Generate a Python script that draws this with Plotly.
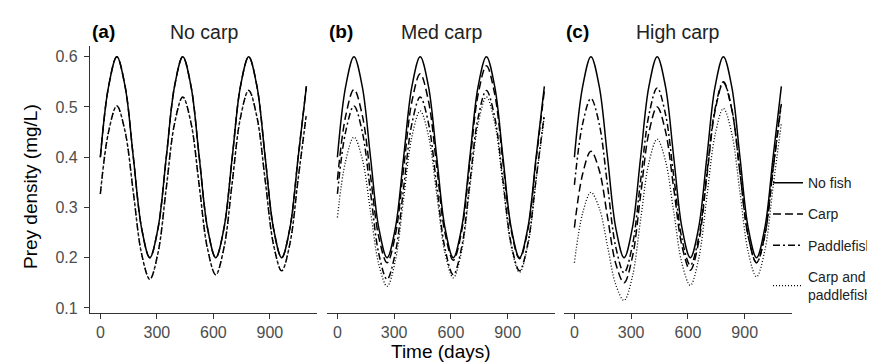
import plotly.graph_objects as go

# Sampled days (8 samples per ~350-day cycle)
days = [0, 43.75, 87.5, 131.25, 175, 218.75, 262.5, 306.25, 350, 393.75, 437.5, 481.25,
        525, 568.75, 612.5, 656.25, 700, 743.75, 787.5, 831.25, 875, 918.75, 962.5,
        1006.25, 1050, 1093.75]

# No fish (same in all panels)
no_fish = [0.400, 0.541, 0.600, 0.541, 0.400, 0.259, 0.200, 0.259, 0.400, 0.541, 0.600, 0.541,
           0.400, 0.259, 0.200, 0.259, 0.400, 0.541, 0.600, 0.541, 0.400, 0.259, 0.200,
           0.259, 0.400, 0.541]

# (a) No carp
a_carp = list(no_fish)
a_paddle = [0.327, 0.451, 0.502, 0.451, 0.330, 0.208, 0.157, 0.210, 0.339, 0.467, 0.520, 0.468,
            0.343, 0.218, 0.166, 0.220, 0.350, 0.479, 0.533, 0.480, 0.354, 0.227, 0.174,
            0.228, 0.357, 0.486]
a_both = list(a_paddle)

# (b) Med carp
b_carp = [0.355, 0.482, 0.535, 0.484, 0.363, 0.241, 0.190, 0.245, 0.378, 0.511, 0.566, 0.512,
          0.381, 0.249, 0.195, 0.252, 0.389, 0.525, 0.582, 0.526, 0.390, 0.254, 0.198,
          0.255, 0.394, 0.533]
b_paddle = list(a_paddle)
b_both = [0.280, 0.393, 0.440, 0.397, 0.292, 0.187, 0.143, 0.194, 0.318, 0.441, 0.492, 0.443,
          0.326, 0.209, 0.160, 0.213, 0.340, 0.467, 0.520, 0.469, 0.346, 0.222, 0.171,
          0.224, 0.353, 0.482]

# (c) High carp
c_carp = [0.260, 0.367, 0.412, 0.374, 0.281, 0.188, 0.150, 0.201, 0.325, 0.449, 0.500, 0.452,
          0.338, 0.223, 0.175, 0.230, 0.362, 0.493, 0.548, 0.496, 0.369, 0.242, 0.190,
          0.245, 0.378, 0.510]
c_paddle = [0.345, 0.467, 0.517, 0.466, 0.344, 0.221, 0.170, 0.224, 0.354, 0.484, 0.538, 0.486,
            0.362, 0.237, 0.185, 0.239, 0.368, 0.497, 0.550, 0.497, 0.370, 0.243, 0.190,
            0.244, 0.375, 0.506]
c_both = [0.190, 0.289, 0.330, 0.299, 0.223, 0.146, 0.115, 0.162, 0.276, 0.389, 0.436, 0.393,
          0.291, 0.188, 0.145, 0.197, 0.321, 0.445, 0.497, 0.448, 0.330, 0.211, 0.162,
          0.214, 0.341, 0.468]

panel_tags = ["(a)", "(b)", "(c)"]
panel_titles = ["No carp", "Med carp", "High carp"]
series_names = ["No fish", "Carp", "Paddlefish", "Carp and<br>paddlefish"]
x_ticks = [0, 300, 600, 900]
y_ticks = [0.1, 0.2, 0.3, 0.4, 0.5, 0.6]

panels = [
    [no_fish, a_carp, a_paddle, a_both],
    [no_fish, b_carp, b_paddle, b_both],
    [no_fish, c_carp, c_paddle, c_both],
]
dashes = ["solid", "8px,4px", "7px,3px,2px,3px", "1px,2px"]
widths = [1.5, 1.5, 1.5, 1.3]

W, H = 875, 364
px_dom = [(82, 309), (319, 547), (556, 784)]
y_top, y_bot = 38, 308
FONT = "Liberation Sans, Arial, sans-serif"

fig = go.Figure()
for p, ser in enumerate(panels):
    xa = "x" if p == 0 else f"x{p+1}"
    ya = "y" if p == 0 else f"y{p+1}"
    for s in [3, 2, 1, 0]:
        fig.add_trace(go.Scatter(
            x=days, y=ser[s], mode="lines", xaxis=xa, yaxis=ya,
            line=dict(color="black", width=widths[s], dash=dashes[s], shape="spline", smoothing=1.0),
            name=series_names[s], legendgroup=series_names[s], legendrank=s,
            showlegend=(p == 2), hoverinfo="skip"))

axis_col = "#333333"
tick_font = dict(family=FONT, size=16, color="#4d4d4d")
for p in range(3):
    d0, d1 = px_dom[p]
    xkey = "xaxis" if p == 0 else f"xaxis{p+1}"
    ykey = "yaxis" if p == 0 else f"yaxis{p+1}"
    fig.layout[xkey] = dict(
        domain=[d0 / W, d1 / W], range=[-55, 1150], tickvals=x_ticks,
        showline=True, linecolor=axis_col, linewidth=1.3, ticks="outside", ticklen=5,
        tickcolor=axis_col, tickwidth=1.1, showgrid=False, zeroline=False,
        tickfont=tick_font, anchor="y" if p == 0 else f"y{p+1}", fixedrange=True)
    fig.layout[ykey] = dict(
        domain=[(H - y_bot) / H, (H - y_top) / H], range=[0.0907, 0.6222],
        tickvals=y_ticks, tickformat=".1f",
        showline=(p == 0), linecolor=axis_col, linewidth=1.3,
        ticks="outside" if p == 0 else "", ticklen=5, tickcolor=axis_col, tickwidth=1.1,
        ticklabelstandoff=3,
        showticklabels=(p == 0), showgrid=False, zeroline=False, tickfont=tick_font,
        anchor="x" if p == 0 else f"x{p+1}", fixedrange=True)

ann = []
for p in range(3):
    d0, d1 = px_dom[p]
    ann.append(dict(text=f"<b>{panel_tags[p]}</b>", x=d0 / W, y=(H - 24) / H, xref="paper", yref="paper",
                    xanchor="left", yanchor="middle", showarrow=False,
                    font=dict(family=FONT, size=19, color="black")))
    ann.append(dict(text=panel_titles[p], x=(d0 + d1) / 2 / W, y=(H - 24) / H, xref="paper", yref="paper",
                    xanchor="center", yanchor="middle", showarrow=False,
                    font=dict(family=FONT, size=19.5, color="#222222")))
ann.append(dict(text="Time (days)", x=433 / W, y=(H - 347) / H, xref="paper", yref="paper",
                xanchor="center", yanchor="middle", showarrow=False,
                font=dict(family=FONT, size=19, color="black")))
ann.append(dict(text="Prey density (mg/L)", x=22 / W, y=(H - 181) / H, xref="paper", yref="paper",
                xanchor="center", yanchor="middle", showarrow=False, textangle=-90,
                font=dict(family=FONT, size=19, color="black")))

fig.update_layout(
    width=W, height=H, margin=dict(l=0, r=0, t=0, b=0),
    paper_bgcolor="white", plot_bgcolor="white", annotations=ann,
    showlegend=True,
    legend=dict(x=760 / W, y=(H - 161) / H, xanchor="left", yanchor="top",
                font=dict(family=FONT, size=14, color="#222222"),
                bgcolor="rgba(0,0,0,0)", tracegroupgap=10, itemwidth=30,
                traceorder="grouped"),
)

fig.write_html("out.html")
